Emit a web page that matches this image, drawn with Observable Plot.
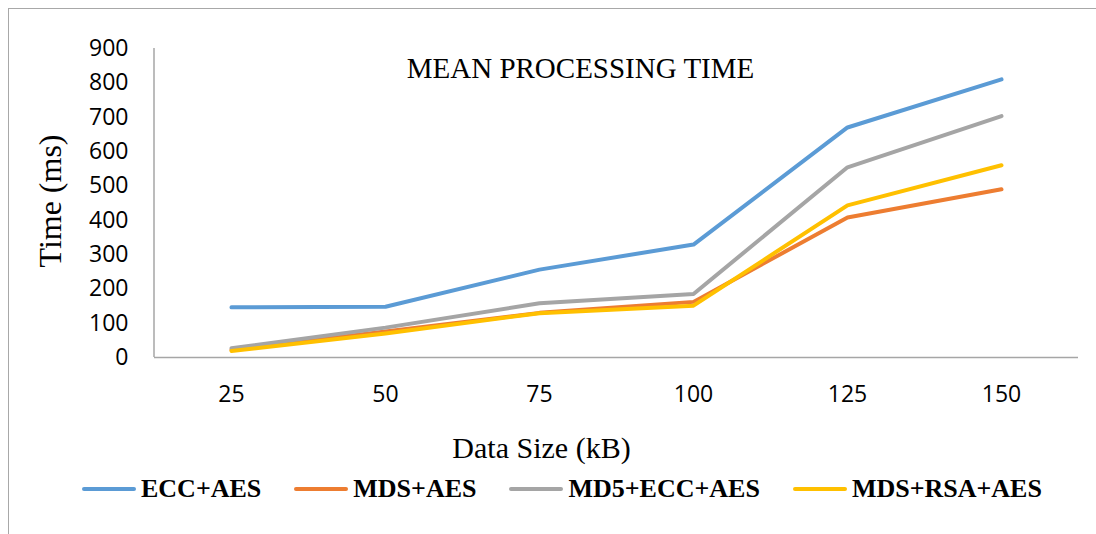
<!DOCTYPE html>
<html>
<head>
<meta charset="utf-8">
<script src="https://cdn.jsdelivr.net/npm/d3@7"></script>
<script src="https://cdn.jsdelivr.net/npm/@observablehq/plot@0.6"></script>
<style>
  html, body { margin: 0; padding: 0; background: #fff; overflow: hidden; }
  #wrap { position: relative; width: 1096px; height: 534px; }
  #border { position: absolute; left: 8px; top: 8px; width: 1120px; height: 560px;
            border: 1px solid #a8a8a8; box-sizing: border-box; pointer-events: none; }
  #legend { position: absolute; left: 82px; top: 474px; display: flex; align-items: center;
            font-family: "Liberation Serif", "Times New Roman", serif; font-weight: bold;
            font-size: 26px; color: #000; white-space: nowrap; }
  .item { display: flex; align-items: center; margin-right: 33px; }
  .swatch { width: 54px; height: 4px; border-radius: 2px; margin-right: 5px; }
</style>
</head>
<body>
<div id="wrap">
  <div id="chart"></div>
  <div id="legend"></div>
  <div id="border"></div>
</div>
<script>
const sizes = [25, 50, 75, 100, 125, 150];
const seriesNames = ["ECC+AES", "MDS+AES", "MD5+ECC+AES", "MDS+RSA+AES"];
const seriesColors = ["#5B9BD5", "#ED7D31", "#A5A5A5", "#FFC000"];
const eccAes    = [146, 148, 256, 329, 670, 810];
const mdsAes    = [22, 76, 130, 162, 408, 490];
const md5EccAes = [27, 87, 158, 185, 554, 703];
const mdsRsaAes = [19, 70, 129, 151, 443, 560];
const yTicks = [0, 100, 200, 300, 400, 500, 600, 700, 800, 900];
const titleText = "MEAN PROCESSING TIME";
const xLabel = "Data Size (kB)";
const yLabel = "Time (ms)";

const valuesBySeries = [eccAes, mdsAes, md5EccAes, mdsRsaAes];
const data = [];
seriesNames.forEach((s, i) => {
  sizes.forEach((x, j) => data.push({series: s, size: x, time: valuesBySeries[i][j]}));
});

const serif = "Liberation Serif, Times New Roman, serif";
const sans = "Open Sans, DejaVu Sans, sans-serif";

// vertical axis line at the frame's left edge
function leftAxisLine(index, scales, values, dim) {
  const ns = "http://www.w3.org/2000/svg";
  const l = document.createElementNS(ns, "line");
  l.setAttribute("x1", dim.marginLeft);
  l.setAttribute("x2", dim.marginLeft);
  l.setAttribute("y1", scales.y(0));
  l.setAttribute("y2", scales.y(900));
  l.setAttribute("stroke", "#a6a6a6");
  l.setAttribute("stroke-width", 1.5);
  return l;
}

const chart = Plot.plot({
  width: 1096,
  height: 534,
  marginLeft: 154,
  marginRight: 18,
  marginTop: 48,
  marginBottom: 177,
  style: {background: "transparent", overflow: "visible"},
  x: {type: "point", domain: sizes, padding: 0.5},
  y: {domain: [0, 900]},
  color: {domain: seriesNames, range: seriesColors},
  marks: [
    Plot.axisY({ticks: yTicks, tickSize: 0, tickPadding: 26, fontSize: 23, fontFamily: sans, label: null, fill: "#000"}),
    Plot.axisX({tickSize: 0, tickPadding: 28, fontSize: 23, fontFamily: sans, label: null, fill: "#000"}),
    Plot.ruleY([0], {stroke: "#a6a6a6", strokeWidth: 1.5}),
    leftAxisLine,
    Plot.line(data, {x: "size", y: "time", z: "series", stroke: "series", strokeWidth: 4,
                     strokeLinejoin: "round", strokeLinecap: "round"}),
    Plot.text([titleText], {frameAnchor: "top", dx: -36, dy: 29, lineAnchor: "bottom", textAnchor: "middle",
                            fontSize: 29, fontFamily: serif, fill: "#000"}),
    Plot.text([xLabel], {frameAnchor: "bottom", dx: -75, dy: 100, lineAnchor: "bottom", textAnchor: "middle",
                         fontSize: 30, fontFamily: serif, fill: "#000"}),
    Plot.text([yLabel], {frameAnchor: "left", dx: -104, dy: -2, rotate: -90, lineAnchor: "middle", textAnchor: "middle",
                         fontSize: 32, fontFamily: serif, fill: "#000"})
  ]
});
document.getElementById("chart").appendChild(chart);

const legend = d3.select("#legend");
seriesNames.forEach((s, i) => {
  const item = legend.append("div").attr("class", "item");
  item.append("div").attr("class", "swatch").style("background", seriesColors[i]);
  item.append("span").text(s);
});
</script>
</body>
</html>
